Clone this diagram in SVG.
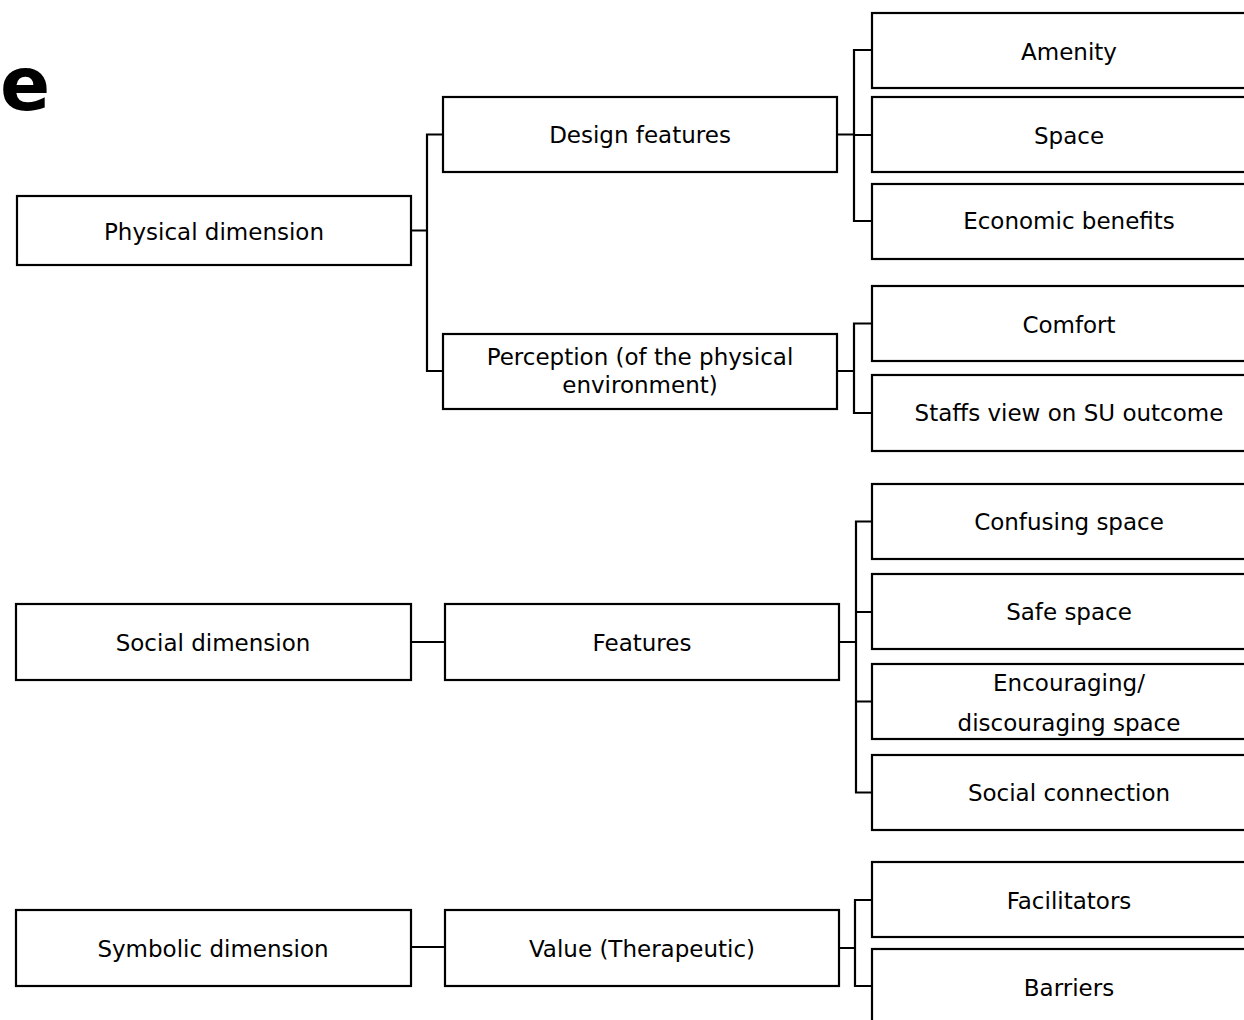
<svg xmlns="http://www.w3.org/2000/svg" width="1244" height="1020" viewBox="0 0 1244 1020">
<style>
.box{fill:#fff;stroke:#000;stroke-width:2.2}
.lbl{font-family:"DejaVu Sans",Verdana,sans-serif;font-size:23px;fill:#000;text-anchor:middle}
.con{fill:none;stroke:#000;stroke-width:2.2}
.title{font-family:"DejaVu Sans",Verdana,sans-serif;font-size:74px;font-weight:bold;fill:#000}
</style>
<rect width="1244" height="1020" fill="#fff"/>
<text class="title" x="0" y="110">e</text>
<g id="connectors">
<path class="con" d="M411,230.5 H427 M443,134.5 H427 V371 H443"/>
<path class="con" d="M837,134.5 H854 M872,50 H854 V221 H872 M854,135 H872"/>
<path class="con" d="M837,371 H854 M872,323.5 H854 V413 H872"/>
<path class="con" d="M411,642 H445"/>
<path class="con" d="M839,642 H856 M872,521.5 H856 V792.5 H872 M856,612 H872 M856,701.5 H872"/>
<path class="con" d="M411,947 H445"/>
<path class="con" d="M839,948 H855 M872,900 H855 V986 H872"/>
</g>
<g id="physical"><rect class="box" x="17" y="196" width="394" height="69"/><text class="lbl" x="214" y="240">Physical dimension</text></g>
<g id="design"><rect class="box" x="443" y="97" width="394" height="75"/><text class="lbl" x="640" y="143">Design features</text></g>
<g id="perception"><rect class="box" x="443" y="334" width="394" height="75"/><text class="lbl" x="640" y="365">Perception (of the physical</text><text class="lbl" x="640" y="393">environment)</text></g>
<g id="amenity"><rect class="box" x="872" y="13" width="394" height="75"/><text class="lbl" x="1069" y="60">Amenity</text></g>
<g id="space"><rect class="box" x="872" y="97" width="394" height="75"/><text class="lbl" x="1069" y="144">Space</text></g>
<g id="economic"><rect class="box" x="872" y="184" width="394" height="75"/><text class="lbl" x="1069" y="229">Economic benefits</text></g>
<g id="comfort"><rect class="box" x="872" y="286" width="394" height="75"/><text class="lbl" x="1069" y="333">Comfort</text></g>
<g id="staffs"><rect class="box" x="872" y="375" width="394" height="76"/><text class="lbl" x="1069" y="421">Staffs view on SU outcome</text></g>
<g id="social"><rect class="box" x="16" y="604" width="395" height="76"/><text class="lbl" x="213" y="651">Social dimension</text></g>
<g id="features"><rect class="box" x="445" y="604" width="394" height="76"/><text class="lbl" x="642" y="651">Features</text></g>
<g id="confusing"><rect class="box" x="872" y="484" width="394" height="75"/><text class="lbl" x="1069" y="530">Confusing space</text></g>
<g id="safe"><rect class="box" x="872" y="574" width="394" height="75"/><text class="lbl" x="1069" y="620">Safe space</text></g>
<g id="encouraging"><rect class="box" x="872" y="664" width="394" height="75"/><text class="lbl" x="1069" y="691">Encouraging/</text><text class="lbl" x="1069" y="731">discouraging space</text></g>
<g id="socialconn"><rect class="box" x="872" y="755" width="394" height="75"/><text class="lbl" x="1069" y="801">Social connection</text></g>
<g id="symbolic"><rect class="box" x="16" y="910" width="395" height="76"/><text class="lbl" x="213" y="957">Symbolic dimension</text></g>
<g id="value"><rect class="box" x="445" y="910" width="394" height="76"/><text class="lbl" x="642" y="957">Value (Therapeutic)</text></g>
<g id="facilitators"><rect class="box" x="872" y="862" width="394" height="75"/><text class="lbl" x="1069" y="909">Facilitators</text></g>
<g id="barriers"><rect class="box" x="872" y="949" width="394" height="80"/><text class="lbl" x="1069" y="996">Barriers</text></g>
</svg>
